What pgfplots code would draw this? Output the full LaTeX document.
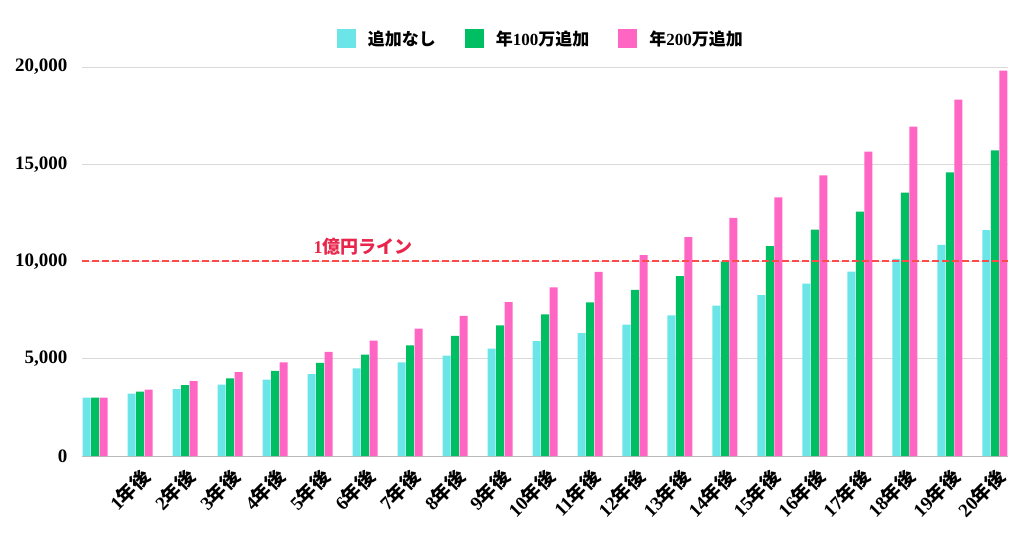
\documentclass[border=0pt]{standalone}
\usepackage{pgfplots}
\pgfplotsset{compat=1.18}
\usepackage{pgfplotstable}
\usepackage{fontspec}
\setmainfont{Liberation Serif}
\newfontfamily\cjk{Noto Sans CJK JP}
\definecolor{cA}{HTML}{6CE5E8}
\definecolor{cB}{HTML}{00BF63}
\definecolor{cC}{HTML}{FF66C4}
\definecolor{okured}{HTML}{FF4A4A}
\definecolor{redtext}{HTML}{E8254A}
\definecolor{gridc}{HTML}{D9D9D9}
\newcommand{\yl}[1]{{\bfseries #1{\cjk 年後}}}
\pgfplotstableread{
x a b c
0 3000 3000 3000
1 3210 3310 3410
2 3435 3642 3849
3 3675 3997 4318
4 3932 4376 4820
5 4208 4783 5358
6 4502 5218 5933
7 4817 5683 6548
8 5155 6181 7207
9 5515 6713 7911
10 5902 7283 8665
11 6315 7893 9471
12 6757 8546 10334
13 7230 9244 11258
14 7736 9991 12246
15 8277 10790 13303
16 8857 11645 14434
17 9477 12561 15645
18 10140 13540 16940
19 10850 14588 18325
20 11609 15709 19808
}\data
\pgfplotstableread{
x y
-0.29 10000
20.29 10000
}\oku
\begin{document}
\begin{tikzpicture}
\useasboundingbox (0,0) rectangle (1024pt,538pt);
\begin{axis}[
  at={(82pt,82pt)}, anchor=south west,
  scale only axis, width=926pt, height=389pt,
  xmin=-0.29, xmax=20.29, ymin=0, ymax=20000,
  ybar=0.5pt, bar width=8pt,
  axis x line*=bottom, axis y line*=left,
  x axis line style={draw=gray!55, -},
  y axis line style={draw=none},
  major tick length=0pt,
  ymajorgrids, grid style={gridc, line width=0.8pt},
  ytick={0,5000,10000,15000,20000},
  scaled y ticks=false,
  /pgf/number format/1000 sep={,},
  /pgf/number format/assume math mode=true,
  yticklabel style={font=\fontsize{19}{21}\selectfont\bfseries, xshift=-11pt},
  xtick={0,...,20},
  xticklabels={,\yl{1},\yl{2},\yl{3},\yl{4},\yl{5},\yl{6},\yl{7},\yl{8},\yl{9},\yl{10},\yl{11},\yl{12},\yl{13},\yl{14},\yl{15},\yl{16},\yl{17},\yl{18},\yl{19},\yl{20}},
  xticklabel style={font=\fontsize{19}{21}\selectfont, rotate=45, anchor=north east, xshift=-4pt, yshift=-4pt},
  legend columns=3,
  legend style={draw=none, at={(0.496,1.072)}, anchor=center,
    font=\fontsize{17}{20}\selectfont,
    /tikz/every even column/.append style={column sep=26pt},
    nodes={inner sep=3pt}},
  legend image code/.code={\fill[#1] (0pt,-9.5pt) rectangle (19pt,9.5pt); \path (28pt,0pt);},
]
\addplot[fill=cA, draw=none] table[x=x,y=a] {\data};
\addplot[fill=cB, draw=none] table[x=x,y=b] {\data};
\addplot[fill=cC, draw=none] table[x=x,y=c] {\data};
\legend{{\bfseries\cjk 追加なし},{\bfseries{\cjk 年}100{\cjk 万追加}},{\bfseries{\cjk 年}200{\cjk 万追加}}}
\end{axis}
\begin{axis}[
  at={(82pt,82pt)}, anchor=south west,
  scale only axis, width=926pt, height=389pt,
  xmin=-0.29, xmax=20.29, ymin=0, ymax=20000,
  axis lines=none, ticks=none, clip=false,
]
\addplot[draw=okured, line width=2pt, dash pattern=on 7pt off 3pt] table[x=x,y=y] {\oku};
\node[text=redtext, font=\fontsize{18}{20}\selectfont\bfseries] at (axis cs:5.96,10750) {1{\cjk 億円ライン}};
\end{axis}
\end{tikzpicture}
\end{document}
